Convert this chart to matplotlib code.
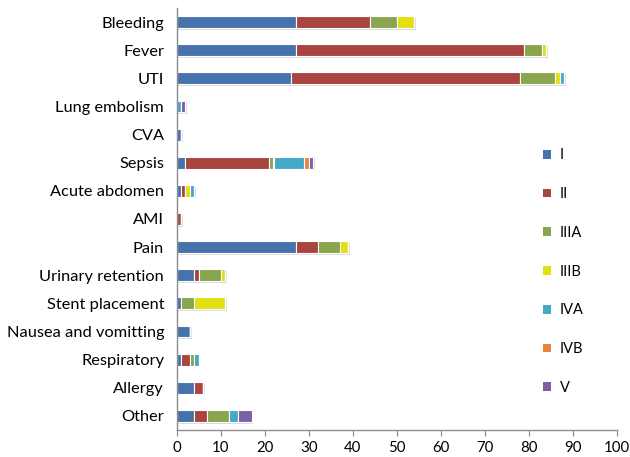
import matplotlib
matplotlib.use("Agg")
import matplotlib.pyplot as plt
import matplotlib.patheffects as pe
import numpy as np

categories = ["Bleeding", "Fever", "UTI", "Lung embolism", "CVA", "Sepsis",
              "Acute abdomen", "AMI", "Pain", "Urinary retention",
              "Stent placement", "Nausea and vomitting", "Respiratory",
              "Allergy", "Other"]
series_names = ["I", "II", "IIIA", "IIIB", "IVA", "IVB", "V"]

grade_I    = [27, 27, 26, 0, 1, 2, 1, 0, 27, 4, 1, 3, 1, 4, 4]
grade_II   = [17, 52, 52, 0, 0, 19, 1, 1, 5, 1, 0, 0, 2, 2, 3]
grade_IIIA = [6, 4, 8, 0, 0, 1, 0, 0, 5, 5, 3, 0, 1, 0, 5]
grade_IIIB = [4, 1, 1, 0, 0, 0, 1, 0, 2, 1, 7, 0, 0, 0, 0]
grade_IVA  = [0, 0, 1, 1, 0, 7, 1, 0, 0, 0, 0, 0, 1, 0, 2]
grade_IVB  = [0, 0, 0, 0, 0, 1, 0, 0, 0, 0, 0, 0, 0, 0, 0]
grade_V    = [0, 0, 0, 1, 0, 1, 0, 0, 0, 0, 0, 0, 0, 0, 3]

series = [grade_I, grade_II, grade_IIIA, grade_IIIB, grade_IVA, grade_IVB, grade_V]
colors = ["#4673AC", "#AA4441", "#89A64E", "#E2E012", "#45A9C6", "#E8843C", "#7C60A6"]

plt.rcParams['font.family'] = ['Lato', 'DejaVu Sans']

fig = plt.figure(figsize=(6.3, 4.57), dpi=100)
ax = fig.add_axes([176.7/630, 27/457, (616.7-176.7)/630, (430-8)/457])

y = np.arange(len(categories))
left = np.zeros(len(categories))
shadow = [pe.SimplePatchShadow(offset=(1.2, -1.2), shadow_rgbFace="#999999", alpha=0.35), pe.Normal()]
for name, vals, c in zip(series_names, series, colors):
    vals = np.array(vals, dtype=float)
    bars = ax.barh(y, vals, left=left, height=0.42, color=c, edgecolor="white",
                   linewidth=0.8, label=name)
    for b, v in zip(bars, vals):
        if v > 0:
            b.set_path_effects(shadow)
    left += vals

ax.set_xlim(0, 100)
ax.set_ylim(len(categories) - 0.5, -0.5)
ax.set_xticks(np.arange(0, 101, 10))
ax.set_yticks(y)
ax.set_yticklabels(categories, fontsize=11.8)
ax.tick_params(axis='x', labelsize=10.8, length=4, color="#8C8C8C", direction="out", pad=4)
ax.tick_params(axis='y', length=0, pad=9)
for s in ["top", "right"]:
    ax.spines[s].set_visible(False)
for s in ["left", "bottom"]:
    ax.spines[s].set_color("#8C8C8C")
    ax.spines[s].set_linewidth(1.0)

leg = ax.legend(loc="upper left", bbox_to_anchor=(536/630, 1 - 141/457),
                bbox_transform=fig.transFigure, frameon=False, fontsize=10.5,
                handlelength=0.55, handleheight=0.55, handletextpad=0.6,
                labelspacing=1.7, borderpad=0)
for h in leg.legend_handles:
    h.set_path_effects([])
    h.set_linewidth(0)

fig.savefig("out.png", dpi=100)
